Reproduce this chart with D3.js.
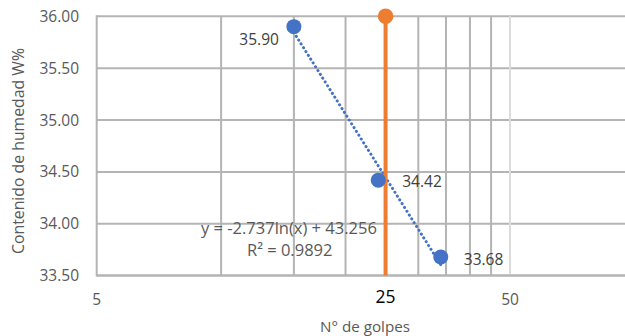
<!DOCTYPE html>
<html>
<head>
<meta charset="utf-8">
<script src="https://cdn.jsdelivr.net/npm/d3@7"></script>
<style>
  body { margin: 0; background: #fff; }
  svg { display: block; font-family: "Open Sans", "Liberation Sans", Arial, sans-serif; }
</style>
</head>
<body>
<svg id="chart" width="625" height="336"></svg>
<script>
// Blow count vs. moisture content (liquid limit test)
const golpes = [15, 24, 34];
const humedad = [35.90, 34.42, 33.68];
const labels = ["35.90", "34.42", "33.68"];

// Reference vertical line at 25 blows
const refX = [25, 25];
const refY = [36.00, 33.50];

// Logarithmic trend: y = a ln(x) + b
const trendA = -2.737;
const trendB = 43.256;
const trendText = ["y = -2.737ln(x) + 43.256", "R² = 0.9892"];

const yTicks = [33.5, 34.0, 34.5, 35.0, 35.5, 36.0];
const xTickLabels = [5, 25, 50];
const xMinorGrid = [10, 15, 20, 25, 30, 35, 40, 45];
const xMajorGrid = [50];

(function draw() {
  const svg = d3.select("#chart");
  const W = 625;
  const plotLeft = 96.7, plotTop = 16.3, plotBottom = 275.6;
  const decade = 413.3;

  const x = d3.scaleLog().domain([5, 500]).range([plotLeft, plotLeft + 2 * decade]);
  const y = d3.scaleLinear().domain([33.5, 36]).range([plotBottom, plotTop]);

  const grid = svg.append("g");
  // horizontal gridlines
  grid.selectAll("line.h").data(yTicks).join("line")
    .attr("x1", plotLeft).attr("x2", W)
    .attr("y1", d => y(d)).attr("y2", d => y(d))
    .attr("stroke", "#B4B4B4").attr("stroke-width", 2);
  // minor vertical gridlines
  grid.selectAll("line.vm").data(xMinorGrid).join("line")
    .attr("x1", d => x(d)).attr("x2", d => x(d))
    .attr("y1", plotTop).attr("y2", plotBottom)
    .attr("stroke", "#B4B4B4").attr("stroke-width", 2);
  // major vertical gridlines
  grid.selectAll("line.vM").data(xMajorGrid).join("line")
    .attr("x1", d => x(d)).attr("x2", d => x(d))
    .attr("y1", plotTop).attr("y2", plotBottom)
    .attr("stroke", "#DCDCDC").attr("stroke-width", 2);
  // axis lines
  grid.append("line").attr("x1", plotLeft).attr("x2", plotLeft)
    .attr("y1", plotTop - 1).attr("y2", plotBottom + 1)
    .attr("stroke", "#B4B4B4").attr("stroke-width", 2);
  grid.append("line").attr("x1", plotLeft).attr("x2", W)
    .attr("y1", plotBottom).attr("y2", plotBottom)
    .attr("stroke", "#B4B4B4").attr("stroke-width", 2);

  // y tick labels
  svg.append("g").selectAll("text").data(yTicks).join("text")
    .attr("x", 79).attr("y", d => y(d)).attr("dy", "0.36em")
    .attr("text-anchor", "end").attr("font-size", 15.5).attr("fill", "#595959")
    .text(d => d.toFixed(2));

  // x tick labels
  svg.append("g").selectAll("text").data(xTickLabels).join("text")
    .attr("x", d => x(d)).attr("y", d => d === 25 ? 297 : 299).attr("dy", "0.36em")
    .attr("text-anchor", "middle")
    .attr("font-size", d => d === 25 ? 17.5 : 15.5)
    .attr("fill", d => d === 25 ? "#000" : "#595959")
    .text(d => d);

  // axis titles
  svg.append("text")
    .attr("transform", "translate(18,151) rotate(-90)")
    .attr("dy", "0.35em")
    .attr("text-anchor", "middle").attr("font-size", 15.8).attr("fill", "#595959")
    .text("Contenido de humedad W%");
  svg.append("text")
    .attr("x", 365).attr("y", 331.5)
    .attr("text-anchor", "middle").attr("font-size", 15.2).attr("fill", "#595959")
    .text("N° de golpes");

  // trendline (dotted)
  const xt = d3.range(0, 41).map(i => golpes[0] + (golpes[2] - golpes[0]) * i / 40);
  const trendLine = d3.line().x(d => x(d)).y(d => y(trendA * Math.log(d) + trendB));
  svg.append("path").datum(xt)
    .attr("d", trendLine).attr("fill", "none")
    .attr("stroke", "#4472C4").attr("stroke-width", 3)
    .attr("stroke-linecap", "round").attr("stroke-dasharray", "0.1 4.4");

  // equation text
  svg.append("text").attr("x", 201).attr("y", 228).attr("dy", "0.36em")
    .attr("font-size", 16.5).attr("fill", "#595959").text(trendText[0]);
  svg.append("text").attr("x", 247).attr("y", 250).attr("dy", "0.36em")
    .attr("font-size", 16.5).attr("fill", "#595959").text(trendText[1]);

  // reference line at 25 blows
  const refPts = refX.map((d, i) => [d, refY[i]]);
  svg.append("path").datum(refPts)
    .attr("d", d3.line().x(d => x(d[0])).y(d => y(d[1])))
    .attr("stroke", "#ED7D31").attr("stroke-width", 4).attr("fill", "none");
  svg.append("circle").attr("cx", x(refX[0])).attr("cy", y(refY[0])).attr("r", 7.8)
    .attr("fill", "#ED7D31");

  // data points
  const pts = golpes.map((d, i) => ({ x: d, y: humedad[i], label: labels[i] }));
  svg.append("g").selectAll("circle").data(pts).join("circle")
    .attr("cx", d => x(d.x)).attr("cy", d => y(d.y)).attr("r", 7.5)
    .attr("fill", "#4472C4");

  // data labels
  const labelOffset = [[-15, 13, "end"], [24, 1, "start"], [23, 2, "start"]];
  svg.append("g").selectAll("text").data(pts).join("text")
    .attr("x", (d, i) => x(d.x) + labelOffset[i][0])
    .attr("y", (d, i) => y(d.y) + labelOffset[i][1])
    .attr("dy", "0.36em")
    .attr("text-anchor", (d, i) => labelOffset[i][2])
    .attr("font-size", 15.5).attr("fill", "#404040")
    .text(d => d.label);
})();
</script>
</body>
</html>
